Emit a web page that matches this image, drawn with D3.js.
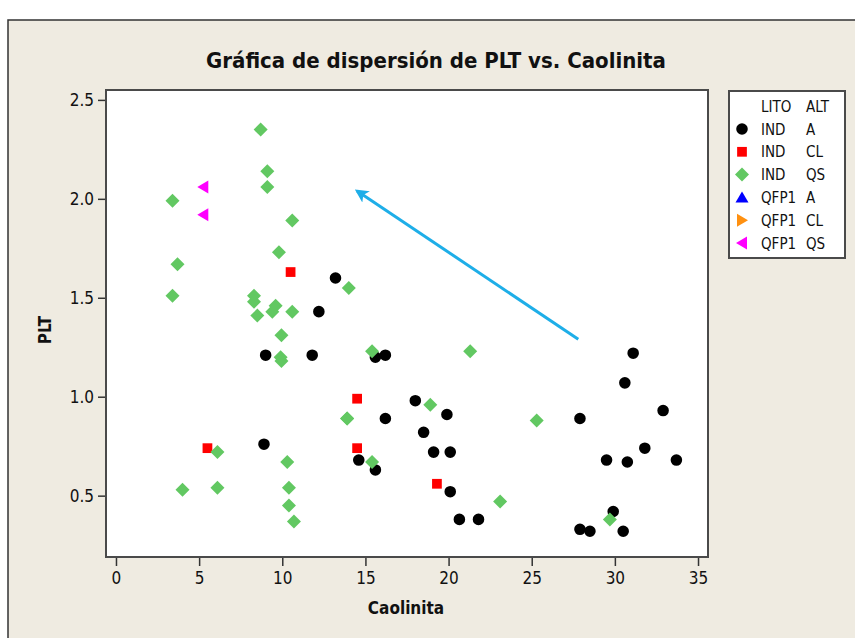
<!DOCTYPE html>
<html>
<head>
<meta charset="utf-8">
<script src="https://cdn.jsdelivr.net/npm/d3@7"></script>
<style>
  body { margin: 0; background: #fff; }
  text { font-family: "DejaVu Sans Condensed", "DejaVu Sans", sans-serif; fill: #111; }
</style>
</head>
<body>
<div id="chart"></div>
<script>
// data
const indA_x = [12.2, 13.2, 9.0, 11.8, 8.9, 15.6, 16.2, 18.0, 19.9, 16.2, 18.5, 19.1, 20.1, 14.6, 15.6, 20.1, 20.65, 21.8,
  31.1, 30.6, 27.9, 32.9, 31.8, 29.5, 30.75, 33.7, 29.9, 27.9, 28.5, 30.5];
const indA_y = [1.43, 1.60, 1.21, 1.21, 0.76, 1.20, 1.21, 0.98, 0.91, 0.89, 0.82, 0.72, 0.72, 0.68, 0.63, 0.52, 0.38, 0.38,
  1.22, 1.07, 0.89, 0.93, 0.74, 0.68, 0.67, 0.68, 0.42, 0.33, 0.32, 0.32];

const indCL_x = [10.5, 5.5, 14.5, 14.5, 19.3];
const indCL_y = [1.63, 0.74, 0.99, 0.74, 0.56];

const indQS_x = [8.7, 9.1, 9.1, 3.4, 10.6, 9.8, 3.7, 3.4, 8.3, 8.3, 8.5, 9.6, 9.4, 10.6, 9.95, 9.9, 9.95, 14.0,
  13.9, 6.1, 10.3, 4.0, 6.1, 10.4, 10.4, 10.7, 15.4, 21.3, 18.9, 13.9, 25.3, 15.4, 23.1, 29.7];
const indQS_y = [2.35, 2.14, 2.06, 1.99, 1.89, 1.73, 1.67, 1.51, 1.51, 1.48, 1.41, 1.46, 1.43, 1.43, 1.31, 1.20, 1.18, 1.55,
  0.89, 0.72, 0.67, 0.53, 0.54, 0.54, 0.45, 0.37, 1.23, 1.23, 0.96, 0.89, 0.88, 0.67, 0.47, 0.38];

const qfpA_x = [], qfpA_y = [];
const qfpCL_x = [], qfpCL_y = [];
const qfpQS_x = [5.25, 5.25];
const qfpQS_y = [2.06, 1.92];

const legendLito = ["IND", "IND", "IND", "QFP1", "QFP1", "QFP1"];
const legendAlt = ["A", "CL", "QS", "A", "CL", "QS"];

const xTicks = [0, 5, 10, 15, 20, 25, 30, 35];
const yTicks = [0.5, 1.0, 1.5, 2.0, 2.5];

// arrow annotation, in data units
const arrowFrom = [27.8, 1.29];
const arrowTo = [14.5, 2.04];

const W = 855, H = 638;
const PLOT = { LEFT: 106, TOP: 90, RIGHT: 708, BOTTOM: 557 };

const svg = d3.select("#chart").append("svg")
  .attr("width", W)
  .attr("height", H);

// figure background with its top/left frame
svg.append("rect")
  .attr("x", 8).attr("y", 20)
  .attr("width", W - 8).attr("height", H - 20)
  .attr("fill", "#efebe1");
svg.append("path")
  .attr("d", `M8,${H}V20H${W}`)
  .attr("fill", "none")
  .attr("stroke", "#333")
  .attr("stroke-width", 1.5);

const x = d3.scaleLinear().domain([-0.6, 35.6]).range([PLOT.LEFT, PLOT.RIGHT]);
const y = d3.scaleLinear().domain([0.19, 2.55]).range([PLOT.BOTTOM, PLOT.TOP]);

// plot area
svg.append("rect")
  .attr("x", PLOT.LEFT).attr("y", PLOT.TOP)
  .attr("width", PLOT.RIGHT - PLOT.LEFT).attr("height", PLOT.BOTTOM - PLOT.TOP)
  .attr("fill", "#fff")
  .attr("stroke", "#4a4a4a")
  .attr("stroke-width", 2);

// axes
const xAxis = svg.append("g")
  .attr("transform", `translate(0,${PLOT.BOTTOM + 1})`)
  .call(d3.axisBottom(x).tickValues(xTicks).tickSize(8).tickPadding(6).tickFormat(d3.format("d")));
const yAxis = svg.append("g")
  .attr("transform", `translate(${PLOT.LEFT - 1},0)`)
  .call(d3.axisLeft(y).tickValues(yTicks).tickSize(7).tickPadding(4).tickFormat(d3.format(".1f")));
[xAxis, yAxis].forEach(g => {
  g.select(".domain").remove();
  g.selectAll(".tick line").attr("stroke", "#333").attr("stroke-width", 1.5);
  g.selectAll(".tick text").attr("font-size", 17).attr("fill", "#222")
    .attr("font-family", "'DejaVu Sans Condensed', sans-serif");
});

// titles
svg.append("text")
  .attr("x", 436).attr("y", 68)
  .attr("text-anchor", "middle")
  .attr("font-size", 22).attr("font-weight", "bold")
  .text("Gráfica de dispersión de PLT vs. Caolinita");
svg.append("text")
  .attr("x", 406).attr("y", 614)
  .attr("text-anchor", "middle")
  .attr("font-size", 17).attr("font-weight", "bold")
  .text("Caolinita");
svg.append("text")
  .attr("transform", "translate(51,330) rotate(-90)")
  .attr("text-anchor", "middle")
  .attr("font-size", 17).attr("font-weight", "bold")
  .text("PLT");

// symbol shapes
const shapes = {
  circle: d3.symbol().type(d3.symbolCircle).size(105),
  square: d3.symbol().type(d3.symbolSquare).size(95),
  diamond: "M0,-7L7,0L0,7L-7,0Z",
  triUp: "M0,-6L6.5,5L-6.5,5Z",
  triRight: "M6,0L-5,-6.5L-5,6.5Z",
  triLeft: "M-6,0L5,-6.5L5,6.5Z"
};
const shapePath = s => typeof shapes[s] === "function" ? shapes[s]() : shapes[s];

const groups = [
  { xs: indA_x, ys: indA_y, shape: "circle", color: "#000" },
  { xs: indCL_x, ys: indCL_y, shape: "square", color: "#ff0000" },
  { xs: indQS_x, ys: indQS_y, shape: "diamond", color: "#62c862" },
  { xs: qfpA_x, ys: qfpA_y, shape: "triUp", color: "#0000ff" },
  { xs: qfpCL_x, ys: qfpCL_y, shape: "triRight", color: "#ff9010" },
  { xs: qfpQS_x, ys: qfpQS_y, shape: "triLeft", color: "#ff00ff" }
];

groups.forEach(grp => {
  svg.append("g").selectAll("path")
    .data(grp.xs.map((v, i) => [v, grp.ys[i]]))
    .enter().append("path")
    .attr("d", shapePath(grp.shape))
    .attr("transform", d => `translate(${x(d[0])},${y(d[1])})`)
    .attr("fill", grp.color);
});

// arrow
svg.append("defs").append("marker")
  .attr("id", "head")
  .attr("viewBox", "0 0 10 10")
  .attr("refX", 8).attr("refY", 5)
  .attr("markerWidth", 4.5).attr("markerHeight", 4.5)
  .attr("orient", "auto")
  .append("path")
  .attr("d", "M0,0L10,5L0,10L2.5,5Z")
  .attr("fill", "#1eaee8");
svg.append("line")
  .attr("x1", x(arrowFrom[0])).attr("y1", y(arrowFrom[1]))
  .attr("x2", x(arrowTo[0])).attr("y2", y(arrowTo[1]))
  .attr("stroke", "#1eaee8")
  .attr("stroke-width", 3)
  .attr("marker-end", "url(#head)");

// legend
const LEG = { X: 729, Y: 91, W: 116, H: 167 };
const leg = svg.append("g");
leg.append("rect")
  .attr("x", LEG.X).attr("y", LEG.Y)
  .attr("width", LEG.W).attr("height", LEG.H)
  .attr("fill", "#fff")
  .attr("stroke", "#4a4a4a")
  .attr("stroke-width", 2);
leg.append("text").attr("x", 761).attr("y", 112).attr("font-size", 15).text("LITO");
leg.append("text").attr("x", 806).attr("y", 112).attr("font-size", 15).text("ALT");
groups.forEach((grp, i) => {
  const cy = 129 + i * 22.8;
  leg.append("path")
    .attr("d", shapePath(grp.shape))
    .attr("transform", `translate(742,${cy})`)
    .attr("fill", grp.color);
  leg.append("text").attr("x", 761).attr("y", cy + 5.5).attr("font-size", 15).text(legendLito[i]);
  leg.append("text").attr("x", 806).attr("y", cy + 5.5).attr("font-size", 15).text(legendAlt[i]);
});
</script>
</body>
</html>
